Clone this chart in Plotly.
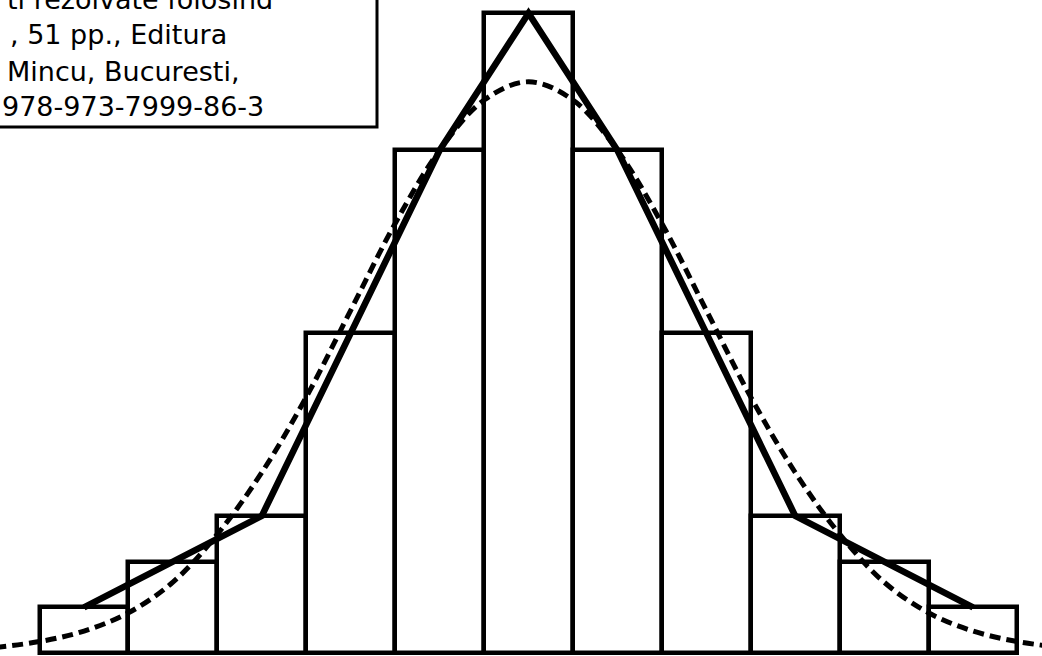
"""
Frequency histogram with frequency polygon and fitted normal curve.

Bars are drawn as outlined boxes, the polygon joins the bar mid-points and
the dashed line is the fitted bell curve. The figure is cropped tightly so
the reference text box is only partly visible at the top-left corner.
"""

import plotly.graph_objects as go

# ── Data ────────────────────────────────────────────────────────────────
# class centres (in class-width units, centre class = 0)
classes = [-5, -4, -3, -2, -1, 0, 1, 2, 3, 4, 5]
counts = [1, 2, 3, 7, 11, 14, 11, 7, 3, 2, 1]

# fitted normal curve
curve_x = [-6.0, -5.5, -5.0, -4.5, -4.0, -3.5, -3.0, -2.5, -2.0, -1.5, -1.0, -0.5,
           0.0, 0.5, 1.0, 1.5, 2.0, 2.5, 3.0, 3.5, 4.0, 4.5, 5.0, 5.5, 6.0]
curve_y = [0.12, 0.25, 0.48, 0.88, 1.55, 2.6, 3.95, 5.6, 7.5, 9.4, 11.0, 12.1,
           12.5, 12.1, 11.0, 9.4, 7.5, 5.6, 3.95, 2.6, 1.55, 0.88, 0.48, 0.25, 0.12]

# reference text (only the visible part, the rest is cropped away)
ref_lines = [
    "ti rezolvate folosind",
    ", 51 pp., Editura",
    "Mincu, Bucuresti,",
    "978-973-7999-86-3",
]

# ── Layout constants ────────────────────────────────────────────────────
W, H = 1042, 656
_BLACK = "#000000"
_FONT = dict(family="DejaVu Sans", size=27, color=_BLACK)

# left edge (px) and vertical middle (px) of each visible text line
_LINE_X = [5, 8, 5, 0]
_LINE_Y = [-1, 34, 71, 106]


def px_x(v):
    return v / W


def px_y(v):
    return 1 - v / H


fig = go.Figure()

# histogram boxes
fig.add_trace(
    go.Bar(
        x=classes,
        y=counts,
        width=1,
        marker=dict(color="white", line=dict(color=_BLACK, width=4.5)),
        hoverinfo="skip",
    )
)

# frequency polygon
fig.add_trace(
    go.Scatter(
        x=classes,
        y=counts,
        mode="lines",
        line=dict(color=_BLACK, width=6.5),
        hoverinfo="skip",
    )
)

# normal curve
fig.add_trace(
    go.Scatter(
        x=curve_x,
        y=curve_y,
        mode="lines",
        line=dict(color=_BLACK, width=5, dash="11px,6px", shape="spline"),
        hoverinfo="skip",
    )
)

# text box, cut by the top-left corner
fig.add_shape(
    type="rect",
    xref="paper", yref="paper",
    x0=-0.2, x1=px_x(377), y0=px_y(127), y1=1.2,
    line=dict(color=_BLACK, width=3),
    fillcolor="white",
    layer="above",
)
for txt, lx, ly in zip(ref_lines, _LINE_X, _LINE_Y):
    fig.add_annotation(
        text=txt,
        xref="paper", yref="paper",
        x=px_x(lx), y=px_y(ly),
        xanchor="left", yanchor="middle",
        showarrow=False,
        font=_FONT,
    )

fig.update_layout(
    width=W,
    height=H,
    margin=dict(l=0, r=0, t=0, b=0),
    paper_bgcolor="white",
    plot_bgcolor="white",
    showlegend=False,
    bargap=0,
    xaxis=dict(range=[-5.945, 5.776], visible=False, fixedrange=True),
    yaxis=dict(range=[-0.066, 14.29], visible=False, fixedrange=True),
)

# page body has an 8px default margin, drop it so the figure fills the window
fig.write_html(
    "out.html",
    config={"displayModeBar": False},
    post_script="document.body.style.margin='0';document.body.style.overflow='hidden';",
)
